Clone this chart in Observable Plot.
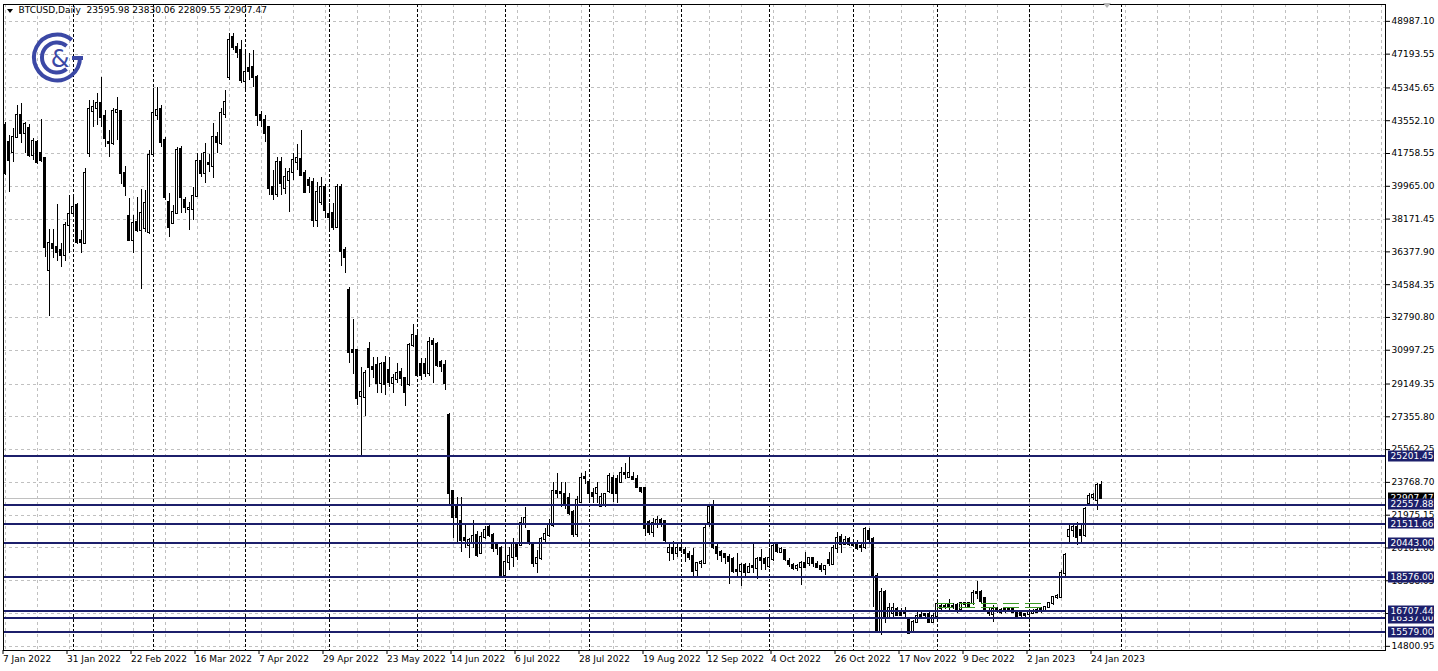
<!DOCTYPE html>
<html><head><meta charset="utf-8">
<script src="https://cdn.jsdelivr.net/npm/d3@7"></script>
<script src="https://cdn.jsdelivr.net/npm/@observablehq/plot@0.6"></script>
<style>
html,body{margin:0;padding:0;background:#fff;}
#wrap{position:relative;width:1438px;height:671px;overflow:hidden;}
#wrap svg{display:block}
#overlay{position:absolute;left:0;top:0;pointer-events:none}
</style></head><body><div id="wrap"></div>
<script>
// ---- data (weekday daily bars, 7 Jan 2022 .. 26 Jan 2023) ----
const open = [
43290,42361,41814,42634,43838,42853,43126,41650,42361,41759,
41485,35359,36781,36617,36453,36180,37821,38477,38915,37000,
36836,41759,44056,44220,44494,43783,42361,42306,44002,44056,
40665,38313,37000,37985,37547,37657,37438,41704,43838,44166,
42470,39079,37930,38477,41978,39188,38696,38696,39407,41321,
40665,41212,41048,42634,42306,43892,45916,48104,47557,47393,
45697,46408,46463,45916,43838,43564,43181,39899,39516,41267,
39844,40282,40720,41267,41431,40665,40282,40173,38094,39079,
39899,38422,38477,37711,39899,36453,34265,30983,30983,28467,
28412,31038,30053,30162,29178,30272,29889,29178,29397,29780,
29451,29123,31256,31749,30217,30217,29725,31475,31311,30327,
30162,27428,23270,22504,21629,20700,20317,20426,20864,19879,
20754,21301,20864,20317,20152,18676,19387,19660,20426,20317,
21520,21082,20426,19332,19605,20645,20864,21410,23270,23215,
23106,22887,22121,20918,22668,24036,23763,23160,23160,22449,
22559,23270,23981,23927,23763,24255,24036,24036,23927,23434,
23434,21575,21028,21465,21684,21629,19934,20152,19879,20152,
20043,19824,19715,18949,19332,19332,21575,22395,20207,19934,
19824,19660,19551,18949,18894,19223,18840,19168,19058,19605,
19551,19168,19551,20317,19934,20043,19441,19223,19058,19113,
19332,19332,19605,19277,19168,19004,19496,19277,20152,20754,
20371,20645,20426,20426,20262,20207,21082,20645,18621,15558,
17746,16378,16597,16816,16652,16652,16214,15558,16105,16487,
16542,16542,16105,16433,16980,16980,17089,16980,17034,16816,
17144,17144,17144,17746,17746,17417,16706,16542,16816,16761,
16816,16816,16870,16652,16597,16542,16542,16597,16652,16816,
16761,16925,17144,17472,17472,18785,20809,21137,21301,21137,
20864,22613,22942,22778,23595.98];
const high = [
43455,42744,43126,44385,44494,43455,43345,42579,42470,43619,
41540,37602,37602,38970,36836,37985,39462,39516,39024,37547,
40938,44658,44658,45041,45916,44111,43017,44220,44822,44111,
41048,39297,38368,39352,39790,39735,41923,45314,45369,44385,
42634,39571,38915,42087,42142,39352,39079,39899,41759,41759,
42306,41704,43400,42908,44220,45205,48323,48323,47776,47940,
47393,47229,47393,46025,44056,43838,43200,40829,41540,41540,
40938,40938,41759,42251,43017,40829,40446,40392,40173,40446,
40063,39024,39024,40063,40063,36617,34429,32679,31000,30053,
29889,31420,30600,30600,30327,30655,30600,29670,30272,29998,
29506,31366,32405,31968,30545,30545,31694,31639,31420,30436,
30436,27537,23300,22942,22942,21520,20700,21684,21082,21028,
21356,21520,20973,20481,20262,20481,20207,20700,20430,21848,
22395,21100,20481,20043,20754,21246,21739,23763,24255,23763,
23763,23160,22231,22997,24255,24364,23927,23434,23763,23160,
23160,24255,24146,24146,24583,24802,25185,24310,24146,23489,
23489,21684,21793,21903,21793,21684,20426,20535,20426,20262,
20207,19988,20152,19387,19496,21410,22504,22778,20371,20043,
19879,19824,19660,19879,19332,19332,19332,20371,19660,20098,
19660,20152,20371,20371,20207,20060,19605,19332,19277,19441,
19934,19660,19660,19441,19332,19223,19934,20317,21028,20918,
20809,20754,20645,20590,20481,21301,21246,20754,18785,17964,
17855,17144,17144,16925,16870,16925,16323,16214,16652,16761,
16597,16652,16597,17199,17144,17089,17363,17144,17144,17199,
17199,17199,17855,18347,17855,17472,16870,17034,16925,16870,
16925,16925,16925,16761,16652,16597,16761,16816,16870,16925,
16980,17199,17527,17636,18949,19879,21410,21520,21575,21410,
22395,23160,23160,23708,23830.06];
const low = [
40556,39626,41267,42579,42306,41759,41540,41376,41157,41267,
36070,32843,36016,35851,35523,35851,36289,38258,36781,36289,
36781,41540,43181,43290,43181,42087,41540,42197,42470,40063,
39407,36946,36289,37438,34320,37438,37328,41650,43564,42087,
39188,37164,37900,38420,38477,38477,37547,38094,39352,40446,
40118,40720,40392,41759,42197,43673,45752,47393,46955,45588,
45205,45752,45369,43236,43181,42361,39462,39188,39352,39462,
39516,38532,40282,40829,40501,39571,39571,37711,37711,38915,
38203,37547,37547,37657,35578,35195,30272,29670,27974,25239,
27373,28959,29451,28631,28631,28522,28959,28631,29178,29014,
27920,29014,31147,29506,29342,29506,29561,29178,30053,29780,
28795,22504,20700,20426,19934,20152,19605,20152,19660,19824,
20645,20754,19934,19770,18566,18566,18949,19113,19496,20300,
21246,20317,19113,18785,19496,20371,20754,21301,22887,22395,
22286,21958,20754,20754,22613,23653,22613,22613,22613,22395,
22395,23160,22668,22613,23708,23927,24000,23872,23434,23160,
20809,20864,20754,21246,21301,20481,19441,19496,19660,19879,
19387,19496,18566,18512,19058,19277,21301,20098,19496,19387,
19277,18183,18785,18566,18074,18566,18785,18785,18457,18949,
18949,19058,19441,19879,19879,19441,19113,18949,18894,18129,
19058,19168,19113,19058,18840,18676,19168,19223,19879,19879,
20317,20262,20207,20043,19934,20098,20481,16925,15503,15394,
16050,16323,16378,16433,16433,16378,15490,15503,16050,16323,
16378,16050,16050,16378,16706,16816,16761,16816,16597,16652,
16925,16925,17034,17363,17144,16761,16433,16105,16597,16542,
16597,16652,16597,16378,16378,16378,16378,16542,16597,16597,
16652,16870,17034,17363,17417,18621,20481,20754,20317,20481,
20754,22504,22778,22231,22809.55];
const close = [
40665,41376,42634,43838,42853,43345,41650,42415,41267,41376,
36617,36836,36562,36344,36180,37821,38422,38805,36891,36891,
40665,44166,44275,44494,43728,42579,42306,44056,44111,40665,
39954,37000,37930,37547,38477,39024,41650,43947,44111,42361,
39352,37711,38532,41923,39352,38805,38750,39407,41321,40665,
41759,41157,42634,42361,43947,44549,47940,47557,47284,45752,
46190,46244,45916,43838,43564,42853,39844,39516,41267,40118,
40446,40720,41376,41485,40556,39626,40009,38094,39626,39899,
38641,38258,37711,39899,36398,36070,30874,30874,28357,28686,
29725,30053,29944,29178,30217,29123,29232,29451,29725,29451,
28686,31256,31804,29615,29615,29725,31420,31311,30162,30108,
29178,23160,21848,21848,20590,20590,20590,20809,19770,20754,
21137,20864,20152,20152,18676,19387,19715,20426,19715,21520,
21793,20426,19332,19605,20645,20918,21465,23270,23160,23160,
22559,22067,20918,22778,23981,23981,23160,22997,23434,22942,
23106,24091,23160,23160,24255,24200,24255,23927,23489,23270,
21246,21028,21520,21684,21575,20590,20152,19879,20152,20043,
19879,19660,18894,19332,19387,21246,22395,20207,19879,19770,
19660,19441,18894,18894,19223,18840,19113,19113,19551,19496,
19332,19605,20262,19988,20098,19551,19277,19058,19168,19332,
19113,19605,19332,19113,19004,19168,19332,20152,20700,20371,
20590,20371,20317,20152,20207,21192,20645,18566,15558,17746,
16433,16870,16870,16487,16487,16597,15503,16105,16433,16433,
16487,16105,16433,17089,16870,16925,16925,16925,16816,17144,
17089,16980,17691,17691,17253,16816,16597,16816,16706,16652,
16706,16706,16652,16433,16487,16487,16652,16652,16761,16706,
16925,17144,17472,17527,18785,19770,21137,21301,20754,20864,
22286,22997,23051,23599,22907.47];

const yTicks = [48987.10,47193.55,45345.65,43552.10,41758.55,39965.00,38171.45,36377.90,34584.35,
  32790.80,30997.25,29149.35,27355.80,25562.25,23768.70,21975.15,20181.60,18388.05,16594.50,14800.95];
const dateLabels = ["7 Jan 2022","31 Jan 2022","22 Feb 2022","16 Mar 2022","7 Apr 2022","29 Apr 2022",
  "23 May 2022","14 Jun 2022","6 Jul 2022","28 Jul 2022","19 Aug 2022","12 Sep 2022","4 Oct 2022",
  "26 Oct 2022","17 Nov 2022","9 Dec 2022","2 Jan 2023","24 Jan 2023"];
const labelBars = [0,16,32,48,64,80,96,112,128,144,160,176,192,208,224,240,256,272];
const separatorBars = [17,37,60,81,103,125,146,169,191,212,233,256,279]; // first weekday of each month
const levels = [25201.45,22557.88,21511.66,20443.00,18576.00,16337.00,16707.44,15579.00];
const greenLevels = [17166, 16925];
const greenFrom = 233, greenTo = 260;
const symbol = "BTCUSD", timeframe = "Daily";

// ---- chart ----
const candles = open.map((o, i) => ({i, o, h: high[i], l: low[i], c: close[i]}));
const last = candles[candles.length - 1];
const gridBars = d3.range(0, 345, 8);
const navy = "#1c1f6b";
const fmt = d3.format(".2f");
const header = `${symbol},${timeframe}\u00a0\u00a0${fmt(last.o)} ${fmt(last.h)} ${fmt(last.l)} ${fmt(last.c)}`;

const plot = Plot.plot({
  width: 1438, height: 671,
  marginLeft: 3, marginRight: 53, marginTop: 4, marginBottom: 21,
  x: {type: "linear", domain: [-0.375, 345.125]},
  y: {type: "linear", domain: [14573, 49909]},
  style: {fontFamily: "'DejaVu Sans', sans-serif", fontSize: "9px", color: "#000", background: "#fff", overflow: "visible"},
  marks: [
    Plot.ruleY(yTicks, {stroke: "#c0c0c0", strokeOpacity: 1, strokeDasharray: "3,3", shapeRendering: "crispEdges"}),
    Plot.ruleX(gridBars, {stroke: "#c0c0c0", strokeOpacity: 1, strokeDasharray: "3,3", shapeRendering: "crispEdges"}),
    Plot.ruleX(separatorBars, {stroke: "#000", strokeDasharray: "3,2", shapeRendering: "crispEdges"}),
    Plot.ruleY([last.c], {stroke: "#c0c0c0", shapeRendering: "crispEdges"}),
    Plot.ruleX(candles, {x: "i", y1: "l", y2: "h", stroke: "#000", shapeRendering: "crispEdges"}),
    Plot.rect(candles, {x1: d => d.i - 0.25, x2: d => d.i + 0.25, y1: "o", y2: "c",
      fill: d => d.c >= d.o ? "#fff" : "#000", stroke: "#000", insetTop: -0.5, insetBottom: -0.5,
      shapeRendering: "crispEdges"}),
    Plot.ruleY(greenLevels, {x1: () => greenFrom, x2: () => greenTo, stroke: "#3a9a22", strokeDasharray: "16,6", shapeRendering: "crispEdges"}),
    Plot.ruleY(levels, {stroke: navy, strokeWidth: 2, shapeRendering: "crispEdges"}),
    Plot.frame({stroke: "#000", shapeRendering: "crispEdges"}),
    Plot.axisY(yTicks, {anchor: "right", tickSize: 4, tickPadding: 2, tickFormat: fmt, label: null, fill: "#000"}),
    Plot.axisX(labelBars, {anchor: "bottom", tickSize: 4, tickPadding: 1, tickFormat: d => dateLabels[labelBars.indexOf(d)],
      textAnchor: "start", dx: -2, label: null, fill: "#000"}),
    Plot.text([last.c], {y: d => d, text: d => fmt(d), frameAnchor: "right", dx: 5, textAnchor: "start", fill: "#fff"}),
    Plot.text(levels, {y: d => d, text: d => fmt(d), frameAnchor: "right", dx: 5, textAnchor: "start", fill: "#fff"}),
    Plot.text([header], {text: d => d, frameAnchor: "top-left", dx: 15, dy: 2, textAnchor: "start", lineAnchor: "top", fill: "#000"})
  ]
});
const wrap = document.getElementById("wrap");
wrap.appendChild(plot);

// label boxes behind the right-hand price labels (inserted just below each white label)
const yScale = plot.scale("y");
const svgNS = "http://www.w3.org/2000/svg";
function addBox(value, fill) {
  const label = fmt(value);
  const t = Array.from(plot.querySelectorAll("text")).find(el => el.textContent === label);
  if (!t) return;
  const parent = t.parentNode;
  const m = parent.getScreenCTM().inverse().multiply(plot.getScreenCTM());
  const yPix = yScale.apply(value);
  const p1 = plot.createSVGPoint(); p1.x = 1388; p1.y = Math.round(yPix) - 5.5;
  const q = p1.matrixTransform(m);
  const r = document.createElementNS(svgNS, "rect");
  r.setAttribute("x", q.x); r.setAttribute("y", q.y);
  r.setAttribute("width", 46); r.setAttribute("height", 11);
  r.setAttribute("fill", fill); r.setAttribute("stroke", "none");
  parent.insertBefore(r, t);
}
addBox(last.c, "#000");
levels.forEach(v => addBox(v, navy));

// logo + header triangle + shift marker (decoration)
const ov = document.createElementNS(svgNS, "svg");
ov.setAttribute("id", "overlay"); ov.setAttribute("width", 1438); ov.setAttribute("height", 671);
ov.innerHTML = `
 <polygon points="7,9 13,9 10,13" fill="#000"/>
 <polygon points="1103,3 1111,3 1107,8" fill="#b8b8b8"/>
 <g fill="none" stroke="#3b48a5" stroke-width="4">
   <path d="M71.8,39.9 A23,23 0 1 0 80,57.5"/>
   <path d="M83,58 H72"/>
   <path d="M66.6,46 A15,15 0 1 0 66.6,69"/>
 </g>
 <text x="60" y="67" font-size="24" font-family="DejaVu Sans" fill="#3b48a5" text-anchor="middle">&amp;</text>`;
wrap.appendChild(ov);
</script></body></html>
